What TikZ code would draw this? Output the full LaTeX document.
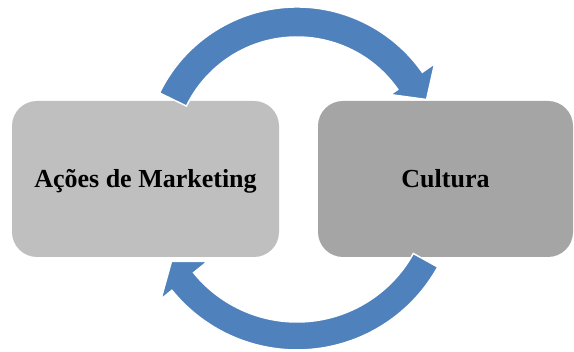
\documentclass[tikz,border=0pt]{standalone}
\usepackage{fontspec}
\setmainfont{Liberation Serif}
\usetikzlibrary{calc}

\definecolor{boxlight}{HTML}{BFBFBF}
\definecolor{boxdark}{HTML}{A5A5A5}
\definecolor{cycleblue}{HTML}{4F81BD}

\begin{document}
\begin{tikzpicture}%
        [x=1pt, y=1pt,
        box/.style={rounded corners=25pt, minimum height=156pt, inner sep=0pt, outer sep=0pt,
                    text height=17pt, text depth=0pt,
                    font=\fontsize{26}{30}\selectfont\bfseries},
        bend arrow/.style={fill=cycleblue, draw=white, line width=1.5pt, line join=miter}]
    %
    \useasboundingbox (0,0) rectangle (574,352);
    %% The two boxes
    \node[box, fill=boxlight, minimum width=267pt] (acoes) at (145.5,173) {Ações de Marketing};
    \node[box, fill=boxdark, minimum width=255pt] (cultura) at (445.5,173) {Cultura};
    %% Centres of the bent arrows
    \coordinate (ctop) at (297,192);
    \coordinate (cbot) at (297,163);
    %% Upper arrow: acoes -> cultura
    \filldraw[bend arrow] ($(ctop)+(154:153)$) arc[start angle=154, end angle=35, radius=153]
        -- ($(ctop)+(35:168)$) -- ($(ctop)+(25:143)$) -- ($(ctop)+(35:114)$)
        -- ($(ctop)+(35:123)$) arc[start angle=35, end angle=154, radius=123] -- cycle;
    %% Lower arrow: cultura -> acoes
    \filldraw[bend arrow] ($(cbot)+(-29:161)$) arc[start angle=-29, end angle=-141, radius=161]
        -- ($(cbot)+(-141:175)$) -- ($(cbot)+(-150:145)$) -- ($(cbot)+(-141:115)$)
        -- ($(cbot)+(-141:133)$) arc[start angle=-141, end angle=-29, radius=133] -- cycle;
\end{tikzpicture}
\end{document}
